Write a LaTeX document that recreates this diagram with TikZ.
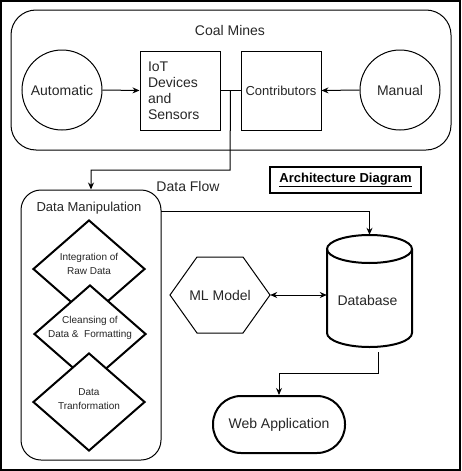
\documentclass[tikz,border=0pt]{standalone}
\usepackage{fontspec}
\setmainfont{Liberation Sans}
\usetikzlibrary{shapes.geometric,arrows.meta,calc}
\begin{document}
\begin{tikzpicture}[x=1pt,y=-1pt,
  thin line/.style={draw=black,line width=1pt},
  thick line/.style={draw=black,line width=2pt},
  big/.style={font=\fontsize{14}{16}\selectfont,text=black!85},
  mid/.style={font=\fontsize{13}{16}\selectfont,text=black!85},
  small/.style={font=\fontsize{10}{14}\selectfont,text=black!85,align=center},
  circ/.style={thin line,circle,minimum size=80pt,inner sep=0pt,big},
  sqbox/.style={thin line,rectangle,minimum width=80pt,minimum height=79pt,inner sep=0pt},
  dia/.style={thick line,fill=white,diamond,minimum width=112pt,minimum height=98pt,inner sep=0pt},
  arr/.style={draw=black,line width=1pt,-{Stealth[length=7pt,width=6pt]}},
  darr/.style={draw=black,line width=1pt,{Stealth[length=7pt,width=6pt]}-{Stealth[length=7pt,width=6pt]}},
  plain/.style={draw=black,line width=1pt}]
\useasboundingbox (0,0) rectangle (461,471);
\draw[line width=1.5pt] (1,1) rectangle (460,470);

% Coal Mines group
\node[thin line,rounded corners=25pt,minimum width=440pt,minimum height=140pt] (cm) at (231,80) {};
\node[big] (cmt) at (230,30) {Coal Mines};
\node[circ] (aut) at (62,90) {Automatic};
\node[sqbox,big,text width=64pt,inner xsep=8pt,align=left] (iot) at (180,90.5) {IoT\\Devices\\and\\Sensors};
\node[sqbox,mid] (con) at (281,90.5) {Contributors};
\node[circ] (man) at (400,90) {Manual};
\draw[arr] (aut.east) -- (iot.west);
\draw[arr] (man.west) -- (con.east);
\draw[plain] (iot.east) -- (con.west);
\coordinate (j) at ($(iot.east)!0.5!(con.west)$);
\coordinate (k) at (230,170);

% Architecture label
\node[draw=black,line width=1.2pt,minimum width=151pt,minimum height=26pt,inner sep=0pt,font=\fontsize{13}{16}\selectfont\bfseries] (arch) at (345.5,180) {\underline{Architecture Diagram}};
\node[big] (df) at (188,186) {Data Flow};

% Data manipulation group
\node[thin line,rounded corners=20pt,minimum width=140pt,minimum height=270pt] (dm) at (91,325) {};
\node[mid] (dmt) at (89,208) {Data Manipulation};
\node[dia] (d1) at (89,269) {};
\node[small] (d1t) at (89,264) {Integration of\\Raw Data};
\node[dia] (d2) at (90,334) {};
\node[small] (d2t) at (90,328) {Cleansing of\\Data \&\ \ Formatting};
\node[dia] (d3) at (89,402) {};
\node[small] (d3t) at (89,399) {Data\\Tranformation};

\draw[arr] (j) -- (k) -| (dm.north);

% ML model hexagon
\node[big,minimum width=100pt,minimum height=76pt,inner sep=0pt] (ml) at (220,295) {ML Model};
\draw[thin line] (170,295) -- (197,257) -- (243,257) -- (270,295) -- (243,333) -- (197,333) -- cycle;

% Database cylinder
\node[minimum width=85pt,minimum height=112pt,inner sep=0pt] (db) at (369.5,291) {};
\draw[thick line,fill=white] (327,249) -- (327,333) arc[start angle=180,end angle=360,x radius=42.5pt,y radius=14pt] -- (412,249);
\draw[thick line] (369.5,249) ellipse [x radius=42.5pt,y radius=14pt];
\node[big] (dbt) at (367.5,300) {Database};

% Web application
\node[thick line,rounded corners=28pt,minimum width=132pt,minimum height=57pt,big] (web) at (279,424.5) {Web Application};

% connectors
\coordinate (dmo) at (161,211);
\draw[arr] (dmo) -| (db.north);
\draw[darr] (ml.east) -- (db.west |- ml.east);
\coordinate (dbo) at (378,352);
\coordinate (dbm) at (378,373);
\draw[arr] (dbo) -- (dbm) -| (web.north);
\end{tikzpicture}
\end{document}
